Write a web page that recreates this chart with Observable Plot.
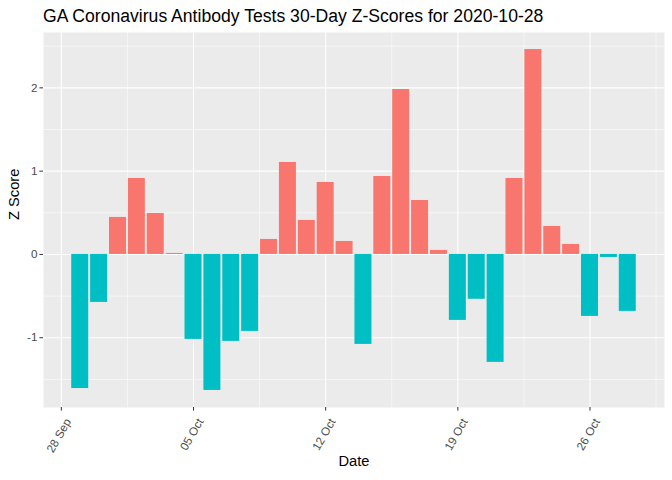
<!DOCTYPE html>
<html>
<head>
<meta charset="utf-8">
<script src="https://cdn.jsdelivr.net/npm/d3@7"></script>
<script src="https://cdn.jsdelivr.net/npm/@observablehq/plot@0.6"></script>
<style>
  body { margin: 0; background: #fff; font-family: "Liberation Sans", Arial, sans-serif; }
  #title { height: 32px; padding-left: 43px; font-size: 17.6px; line-height: 32px; color: #000; white-space: nowrap; }
  svg { display: block; }
</style>
</head>
<body>
<div id="title">GA Coronavirus Antibody Tests 30-Day Z-Scores for 2020-10-28</div>
<div id="chart"></div>
<script>
const dates = [
  "2020-09-29","2020-09-30","2020-10-01","2020-10-02","2020-10-03","2020-10-04",
  "2020-10-05","2020-10-06","2020-10-07","2020-10-08","2020-10-09","2020-10-10",
  "2020-10-11","2020-10-12","2020-10-13","2020-10-14","2020-10-15","2020-10-16",
  "2020-10-17","2020-10-18","2020-10-19","2020-10-20","2020-10-21","2020-10-22",
  "2020-10-23","2020-10-24","2020-10-25","2020-10-26","2020-10-27","2020-10-28"
];
const zScores = [
  -1.61, -0.576, 0.444, 0.912, 0.492, 0.012,
  -1.02, -1.633, -1.044, -0.924, 0.18, 1.104,
  0.408, 0.864, 0.156, -1.08, 0.936, 1.98,
  0.648, 0.048, -0.792, -0.538, -1.296, 0.912,
  2.46, 0.336, 0.12, -0.744, -0.036, -0.684
];
const xTickDates = ["2020-09-28","2020-10-05","2020-10-12","2020-10-19","2020-10-26"];
const xMinorDates = ["2020-09-24T12:00","2020-10-01T12:00","2020-10-08T12:00","2020-10-15T12:00","2020-10-22T12:00","2020-10-29T12:00"];
const yTicks = [-1, 0, 1, 2];
const yMinor = [-1.5, -0.5, 0.5, 1.5, 2.5];
const xLabel = "Date";
const yLabel = "Z Score";

const DAY = 864e5;
const parse = s => new Date(s.length > 10 ? s + "Z" : s + "T00:00Z");
const data = dates.map((d, i) => ({date: parse(d), z: zScores[i]}));
const half = 0.45 * DAY;
const xmin = d3.min(data, d => +d.date) - half;
const xmax = d3.max(data, d => +d.date) + half;
const xpad = 0.05 * (xmax - xmin);
const ymin = Math.min(0, d3.min(zScores)), ymax = Math.max(0, d3.max(zScores));
const ypad = 0.05 * (ymax - ymin);

const plot = Plot.plot({
  width: 672,
  height: 448,
  marginTop: 0,
  marginLeft: 43,
  marginRight: 8,
  marginBottom: 73,
  style: {fontFamily: "Liberation Sans, Arial, sans-serif", background: "transparent"},
  x: {type: "utc", domain: [new Date(xmin - xpad), new Date(xmax + xpad)]},
  y: {domain: [ymin - ypad, ymax + ypad]},
  marks: [
    Plot.frame({fill: "#EBEBEB", stroke: null}),
    Plot.ruleY(yMinor, {stroke: "#fff", strokeWidth: 0.55}),
    Plot.ruleX(xMinorDates.map(parse), {stroke: "#fff", strokeWidth: 0.55}),
    Plot.ruleY(yTicks, {stroke: "#fff", strokeWidth: 1.1}),
    Plot.ruleX(xTickDates.map(parse), {stroke: "#fff", strokeWidth: 1.1}),
    Plot.rect(data.filter(d => d.z >= 0), {
      x1: d => new Date(+d.date - half), x2: d => new Date(+d.date + half),
      y1: 0, y2: "z", fill: "#F8766D"
    }),
    Plot.rect(data.filter(d => d.z < 0), {
      x1: d => new Date(+d.date - half), x2: d => new Date(+d.date + half),
      y1: 0, y2: "z", fill: "#00BFC4"
    }),
    Plot.axisY(yTicks, {
      tickSize: 3.6, tickPadding: 2.5, fontSize: 11.7, stroke: "#333333", fill: "#4D4D4D",
      label: null, tickFormat: d => String(d)
    }),
    Plot.axisX(xTickDates.map(parse), {
      tickSize: 3.6, tickPadding: 3, fontSize: 11.7, stroke: "#333333", fill: "#4D4D4D",
      label: null, tickFormat: null, text: null
    }),
    Plot.axisX(xTickDates.map(parse), {
      tickSize: 0, tickPadding: 6.6, fontSize: 11.7, fill: "#4D4D4D",
      tickRotate: -60, label: null, tickFormat: d3.utcFormat("%d %b"), dx: 7, dy: 5.5
    }),
    Plot.text([xLabel], {frameAnchor: "bottom", dy: 58, fontSize: 14.7, fill: "#000"}),
    Plot.text([yLabel], {frameAnchor: "left", dx: -29, rotate: -90, fontSize: 14.7, fill: "#000"})
  ]
});
document.getElementById("chart").appendChild(plot);
</script>
</body>
</html>
